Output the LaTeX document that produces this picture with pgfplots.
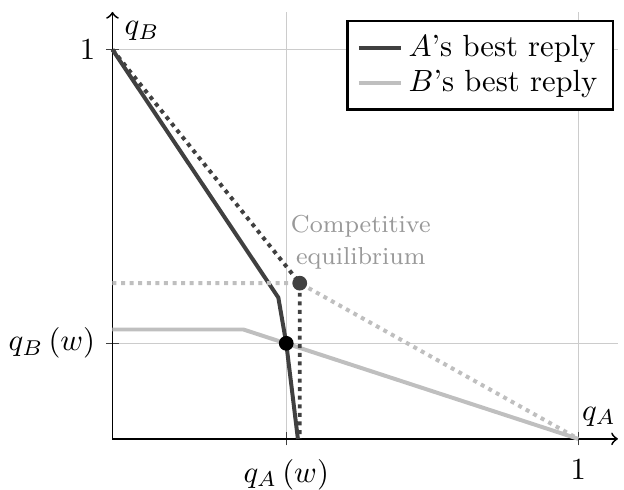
\documentclass[border=0pt]{standalone}
\usepackage{pgfplots}
\pgfplotsset{compat=1.18}
\definecolor{darkline}{HTML}{404040}
\definecolor{lightline}{HTML}{BFBFBF}
\definecolor{annot}{HTML}{999999}
\definecolor{gridc}{HTML}{CCCCCC}
\begin{document}
\begin{tikzpicture}
\begin{axis}[
  scale only axis,
  x=152pt, y=127pt,
  xmin=0, xmax=1.085, ymin=0, ymax=1.097,
  axis lines=left,
  axis line style={semithick, ->},
  xtick={0.373,1}, xticklabels={$q_A\left(w\right)$, $1$},
  ytick={0.2455,1}, yticklabels={$q_B\left(w\right)$, $1$},
  xticklabel style={yshift=-1pt},
  grid=major,
  grid style={gridc, thin},
  tick style={darkline},
  xlabel={$q_A$}, ylabel={$q_B$},
  xlabel style={at={(rel axis cs:1,0)}, anchor=south east, inner sep=0pt, yshift=4pt, xshift=-0.5pt},
  ylabel style={at={(rel axis cs:0,1)}, anchor=north west, rotate=-90, inner sep=0pt, xshift=3.8pt, yshift=-3pt},
  legend style={at={(rel axis cs:1,1)}, anchor=north east, xshift=-1.3pt, yshift=-2.6pt, draw=black, thick, font=\normalsize, row sep=-1pt, inner xsep=3pt, inner ysep=2.5pt},
  legend image code/.code={\draw[#1] (0cm,0cm) -- (0.48cm,0cm);},
  legend cell align=left,
  clip=false,
]
\addplot[darkline, line width=1.3pt] coordinates {(0,1) (0.356,0.363) (0.373,0.2455) (0.398,0)};
\addlegendentry{$A$'s best reply}
\addplot[lightline, line width=1.3pt] coordinates {(0,0.281) (0.281,0.281) (1,0)};
\addlegendentry{$B$'s best reply}
\addplot[darkline, line width=1.3pt, dash pattern=on 1.3pt off 1.5pt, forget plot] coordinates {(0,1) (0.402,0.4) (0.402,0)};
\addplot[lightline, line width=1.3pt, dash pattern=on 1.3pt off 1.5pt, forget plot] coordinates {(0,0.4) (0.402,0.4) (1,0)};
\addplot[only marks, mark=*, mark size=2.2pt, black, forget plot] coordinates {(0.373,0.2455)};
\addplot[only marks, mark=*, mark size=2.2pt, darkline, forget plot] coordinates {(0.402,0.4)};
\node[annot, font=\footnotesize, align=center, inner sep=0pt] at (axis cs:0.533,0.506) {Competitive\\[1pt]equilibrium};
\coordinate (O) at (axis cs:0,0);
\end{axis}
\pgfresetboundingbox
\path[use as bounding box] (O) ++(-36.7pt,-16.4pt) rectangle ++(203.6pt,159.6pt);
\end{tikzpicture}
\end{document}
